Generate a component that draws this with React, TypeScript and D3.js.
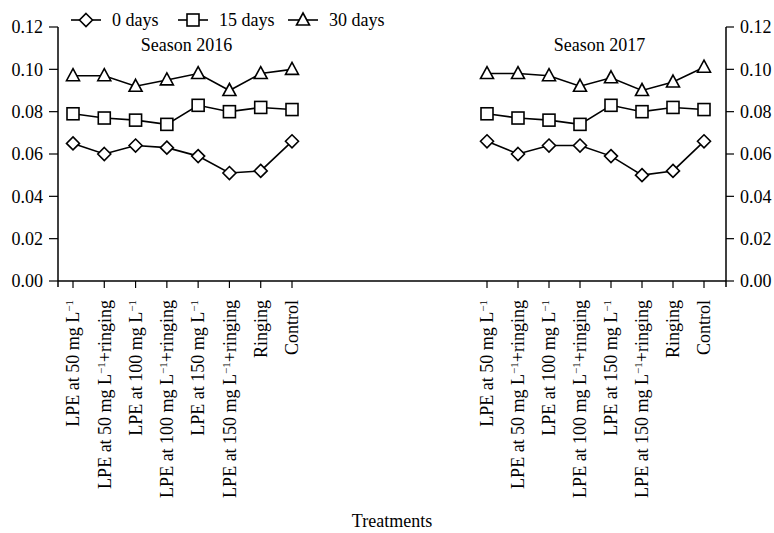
import React from 'react';
import * as d3 from 'd3';

// treatments, shared by both seasons
const treatments = [
  ['LPE at 50 mg L', '−1', ''],
  ['LPE at 50 mg L', '−1', '+ringing'],
  ['LPE at 100 mg L', '−1', ''],
  ['LPE at 100 mg L', '−1', '+ringing'],
  ['LPE at 150 mg L', '−1', ''],
  ['LPE at 150 mg L', '−1', '+ringing'],
  ['Ringing', '', ''],
  ['Control', '', ''],
];
const keys = treatments.map((t, i) => 'T' + i);

const yTicks = [0, 0.02, 0.04, 0.06, 0.08, 0.1, 0.12];

// season 2016
const s2016Day0 = [0.065, 0.060, 0.064, 0.063, 0.059, 0.051, 0.052, 0.066];
const s2016Day15 = [0.079, 0.077, 0.076, 0.074, 0.083, 0.080, 0.082, 0.081];
const s2016Day30 = [0.097, 0.097, 0.092, 0.095, 0.098, 0.090, 0.098, 0.100];

// season 2017
const s2017Day0 = [0.066, 0.060, 0.064, 0.064, 0.059, 0.050, 0.052, 0.066];
const s2017Day15 = [0.079, 0.077, 0.076, 0.074, 0.083, 0.080, 0.082, 0.081];
const s2017Day30 = [0.098, 0.098, 0.097, 0.092, 0.096, 0.090, 0.094, 0.101];

const seriesNames = ['0 days', '15 days', '30 days'];
const markers = ['diamond', 'square', 'triangle'];

const font = '"Liberation Serif", "Times New Roman", serif';
const fs = 18;

const Marker = ({type, x, y}: {type: string; x: number; y: number}) => {
  if (type === 'diamond') {
    return <path d={`M${x},${y - 6.5}L${x + 6.5},${y}L${x},${y + 6.5}L${x - 6.5},${y}Z`} fill="white" stroke="black" strokeWidth={1.6}/>;
  }
  if (type === 'square') {
    return <rect x={x - 6} y={y - 6} width={12} height={12} fill="white" stroke="black" strokeWidth={1.6}/>;
  }
  return <path d={`M${x},${y - 7}L${x + 6.5},${y + 5}L${x - 6.5},${y + 5}Z`} fill="white" stroke="black" strokeWidth={1.6}/>;
};

const App = () => {
  const width = 774;
  const height = 533;
  const axisLeftX = 58;
  const axisRightX = 726;

  const yScale = d3.scaleLinear().domain([0, 0.12]).range([281, 27]);

  const panels = [
    {title: 'Season 2016', series: [s2016Day0, s2016Day15, s2016Day30],
      x: d3.scalePoint<string>().domain(keys).range([73, 292])},
    {title: 'Season 2017', series: [s2017Day0, s2017Day15, s2017Day30],
      x: d3.scalePoint<string>().domain(keys).range([487, 704])},
  ];

  const line = (xs: d3.ScalePoint<string>) =>
    d3.line<number>().x((d, i) => xs(keys[i]) as number).y(d => yScale(d));

  const y0 = yScale(0);

  return (
    <svg width={width} height={height} style={{position: 'absolute', left: 0, top: 0}} fontFamily={font}>
      <rect width={width} height={height} fill="white"/>

      {/* y axes */}
      <line x1={axisLeftX} x2={axisLeftX} y1={yScale(0.12)} y2={y0 + 6} stroke="black" strokeWidth={1.5}/>
      <line x1={axisRightX} x2={axisRightX} y1={yScale(0.12)} y2={y0 + 6} stroke="black" strokeWidth={1.5}/>
      {yTicks.map(t => (
        <g key={t}>
          <line x1={axisLeftX - 9} x2={axisLeftX} y1={yScale(t)} y2={yScale(t)} stroke="black" strokeWidth={1.2}/>
          <text x={axisLeftX - 15} y={yScale(t)} dy="0.35em" textAnchor="end" fontSize={fs}>{t.toFixed(2)}</text>
          <line x1={axisRightX} x2={axisRightX + 8} y1={yScale(t)} y2={yScale(t)} stroke="black" strokeWidth={1.2}/>
          <text x={axisRightX + 14} y={yScale(t)} dy="0.35em" fontSize={fs}>{t.toFixed(2)}</text>
        </g>
      ))}

      {/* x axis */}
      <line x1={axisLeftX} x2={axisRightX} y1={y0} y2={y0} stroke="black" strokeWidth={1.5}/>

      {panels.map(p => (
        <g key={p.title}>
          <text x={(p.x.range()[0] + p.x.range()[1]) / 2 + 4} y={51} textAnchor="middle" fontSize={fs}>{p.title}</text>
          {keys.map((k, i) => {
            const x = p.x(k) as number;
            const t = treatments[i];
            return (
              <g key={k}>
                <line x1={x} x2={x} y1={y0} y2={y0 + 7} stroke="black" strokeWidth={1.2}/>
                <text transform={`translate(${x},${y0 + 19}) rotate(-90)`} dy="0.35em" textAnchor="end" fontSize={fs}>
                  {t[0]}
                  {t[1] && <tspan baselineShift="super" fontSize={11}>{t[1]}</tspan>}
                  {t[2] && <tspan>{t[2]}</tspan>}
                </text>
              </g>
            );
          })}
          {p.series.map((s, si) => (
            <g key={si}>
              <path d={line(p.x)(s) || ''} fill="none" stroke="black" strokeWidth={1.6}/>
              {s.map((v, i) => <Marker key={i} type={markers[si]} x={p.x(keys[i]) as number} y={yScale(v)}/>)}
            </g>
          ))}
        </g>
      ))}

      {/* legend */}
      {seriesNames.map((n, i) => {
        const lx = [71, 178, 288][i];
        return (
          <g key={n}>
            <line x1={lx} x2={lx + 30} y1={20} y2={20} stroke="black" strokeWidth={1.6}/>
            <Marker type={markers[i]} x={lx + 15} y={20}/>
            <text x={lx + 41} y={20} dy="0.35em" fontSize={fs}>{n}</text>
          </g>
        );
      })}

      <text x={392} y={527} textAnchor="middle" fontSize={fs}>Treatments</text>
    </svg>
  );
};

export default App;
